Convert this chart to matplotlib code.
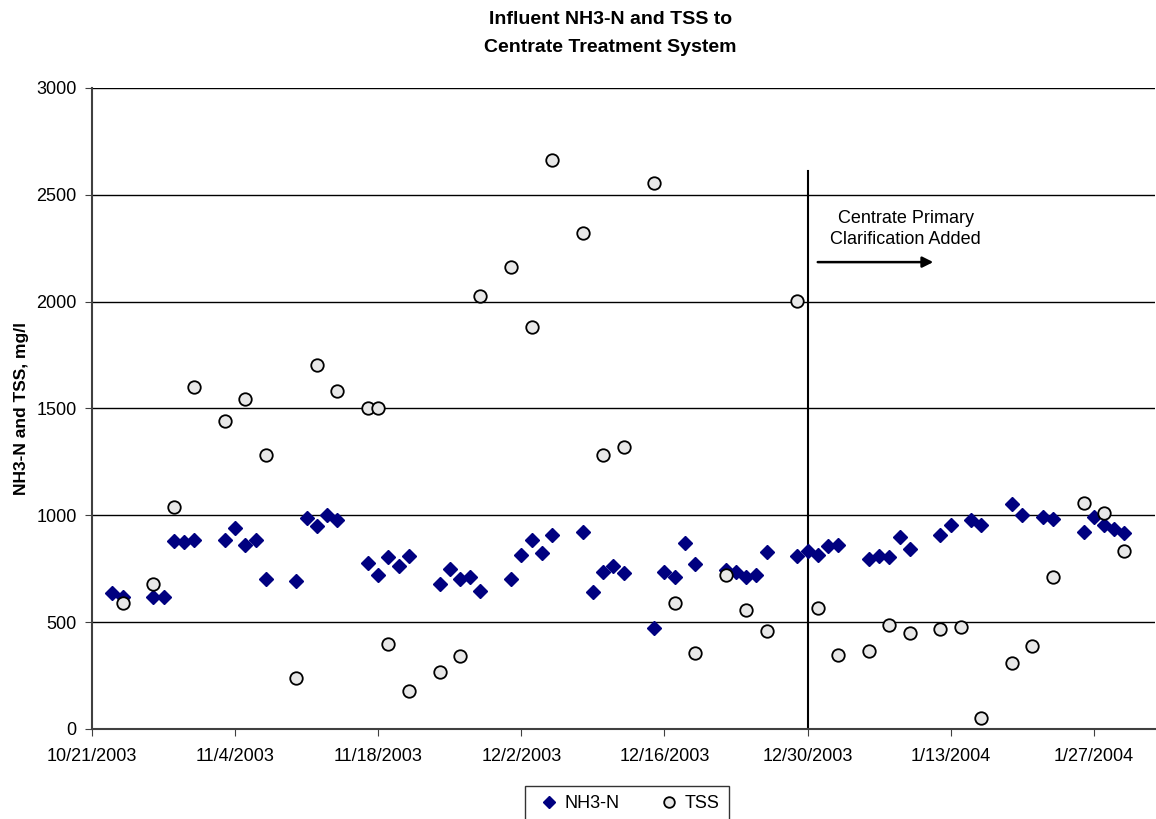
import matplotlib
matplotlib.use('Agg')
import matplotlib.pyplot as plt
import matplotlib.dates as mdates
import pandas as pd

plt.rcParams['font.family'] = ['Liberation Sans', 'DejaVu Sans']

# NH3-N daily values (mg/l)
nh3_dates = ['2003-10-23', '2003-10-24', '2003-10-27', '2003-10-28', '2003-10-29', '2003-10-30',
             '2003-10-31', '2003-11-03', '2003-11-04', '2003-11-05', '2003-11-06', '2003-11-07',
             '2003-11-10', '2003-11-11', '2003-11-12', '2003-11-13', '2003-11-14', '2003-11-17',
             '2003-11-18', '2003-11-19', '2003-11-20', '2003-11-21', '2003-11-24', '2003-11-25',
             '2003-11-26', '2003-11-27', '2003-11-28', '2003-12-01', '2003-12-02', '2003-12-03',
             '2003-12-04', '2003-12-05', '2003-12-08', '2003-12-09', '2003-12-10', '2003-12-11',
             '2003-12-12', '2003-12-15', '2003-12-16', '2003-12-17', '2003-12-18', '2003-12-19',
             '2003-12-22', '2003-12-23', '2003-12-24', '2003-12-25', '2003-12-26', '2003-12-29',
             '2003-12-30', '2003-12-31', '2004-01-01', '2004-01-02', '2004-01-05', '2004-01-06',
             '2004-01-07', '2004-01-08', '2004-01-09', '2004-01-12', '2004-01-13', '2004-01-15',
             '2004-01-16', '2004-01-19', '2004-01-20', '2004-01-22', '2004-01-23', '2004-01-26',
             '2004-01-27', '2004-01-28', '2004-01-29', '2004-01-30']
nh3_vals = [638, 620, 616, 616, 880, 877,
            886, 886, 939, 860, 884, 700,
            694, 989, 952, 1000, 978, 775,
            721, 806, 761, 808, 680, 750,
            700, 710, 644, 700, 813, 883,
            825, 909, 923, 641, 735, 763,
            728, 473, 733, 710, 870, 771,
            744, 736, 713, 719, 827, 810,
            834, 813, 858, 861, 794, 811,
            803, 900, 844, 909, 953, 980,
            953, 1054, 1003, 991, 983, 920,
            992, 956, 936, 917]

# TSS values (mg/l)
tss_dates = ['2003-10-24', '2003-10-27', '2003-10-29', '2003-10-31', '2003-11-03', '2003-11-05',
             '2003-11-07', '2003-11-10', '2003-11-12', '2003-11-14', '2003-11-17', '2003-11-18',
             '2003-11-19', '2003-11-21', '2003-11-24', '2003-11-26', '2003-11-28', '2003-12-01',
             '2003-12-03', '2003-12-05', '2003-12-08', '2003-12-10', '2003-12-12', '2003-12-15',
             '2003-12-17', '2003-12-19', '2003-12-22', '2003-12-24', '2003-12-26', '2003-12-29',
             '2003-12-31', '2004-01-02', '2004-01-05', '2004-01-07', '2004-01-09', '2004-01-12',
             '2004-01-14', '2004-01-16', '2004-01-19', '2004-01-21', '2004-01-23', '2004-01-26',
             '2004-01-28', '2004-01-30']
tss_vals = [588, 677, 1040, 1602, 1441, 1543,
            1281, 237, 1702, 1582, 1501, 1501,
            398, 179, 268, 343, 2028, 2163,
            1883, 2664, 2322, 1282, 1321, 2553,
            590, 354, 719, 558, 457, 2001,
            568, 348, 364, 487, 448, 468,
            477, 50, 309, 388, 711, 1059,
            1009, 833]

change_date = '2003-12-30'
change_top = 2610
x_start, x_end = '2003-10-21', '2004-02-02'
tick_dates = pd.date_range('2003-10-21', periods=8, freq='14D')

fig = plt.figure(figsize=(11.56, 8.19), dpi=100)
ax = fig.add_axes([0.0796, 0.1099, 0.9196, 0.7827])

ax.plot(pd.to_datetime(nh3_dates), nh3_vals, linestyle='none', marker='D', markersize=7,
        color='#000080', label='NH3-N', zorder=3)
ax.plot(pd.to_datetime(tss_dates), tss_vals, linestyle='none', marker='o', markersize=9,
        markerfacecolor='#e8e8e8', markeredgecolor='black', markeredgewidth=1.3,
        label='TSS', zorder=4)

# process change marker
cd = pd.Timestamp(change_date)
ax.plot([cd, cd], [0, change_top], color='black', lw=1.5, zorder=2)
ax.annotate('', xy=(cd + pd.Timedelta(days=12.3), 2185), xytext=(cd + pd.Timedelta(days=1), 2185),
            arrowprops=dict(arrowstyle='-|>', color='black', lw=1.8, mutation_scale=16,
                            shrinkA=0, shrinkB=0))
ax.text(cd + pd.Timedelta(days=9.6), 2340, 'Centrate Primary\nClarification Added',
        ha='center', va='center', fontsize=13, linespacing=1.25)

ax.set_xlim(pd.Timestamp(x_start), pd.Timestamp(x_end))
ax.set_ylim(0, 3000)
ax.set_yticks(range(0, 3001, 500))
ax.set_xticks(tick_dates)
ax.xaxis.set_major_formatter(plt.FuncFormatter(
    lambda v, p: (lambda d: f"{d.month}/{d.day}/{d.year}")(mdates.num2date(v))))
ax.yaxis.grid(True, color='black', lw=1)
ax.set_axisbelow(True)
for s in ['top', 'right']:
    ax.spines[s].set_visible(False)
for s in ['left', 'bottom']:
    ax.spines[s].set_color('#404040')
    ax.spines[s].set_linewidth(1.5)
ax.tick_params(axis='both', direction='out', length=5, color='#404040', labelsize=13)
ax.tick_params(axis='x', pad=9)
ax.tick_params(axis='y', pad=6)

ax.set_ylabel('NH3-N and TSS, mg/l', fontsize=12.5, fontweight='bold', labelpad=5)
fig.suptitle('Influent NH3-N and TSS to\nCentrate Treatment System', fontsize=14,
             fontweight='bold', x=0.528, y=0.9865, linespacing=1.85)

leg = fig.legend(loc='upper center', bbox_to_anchor=(0.5425, 0.051), ncol=2, frameon=True,
                 fancybox=False, edgecolor='black', fontsize=13, handletextpad=0.1,
                 columnspacing=1.9, handlelength=1.6, borderpad=0.5, markerscale=0.85)
leg.get_frame().set_linewidth(1)

fig.savefig('out.png', dpi=100)
